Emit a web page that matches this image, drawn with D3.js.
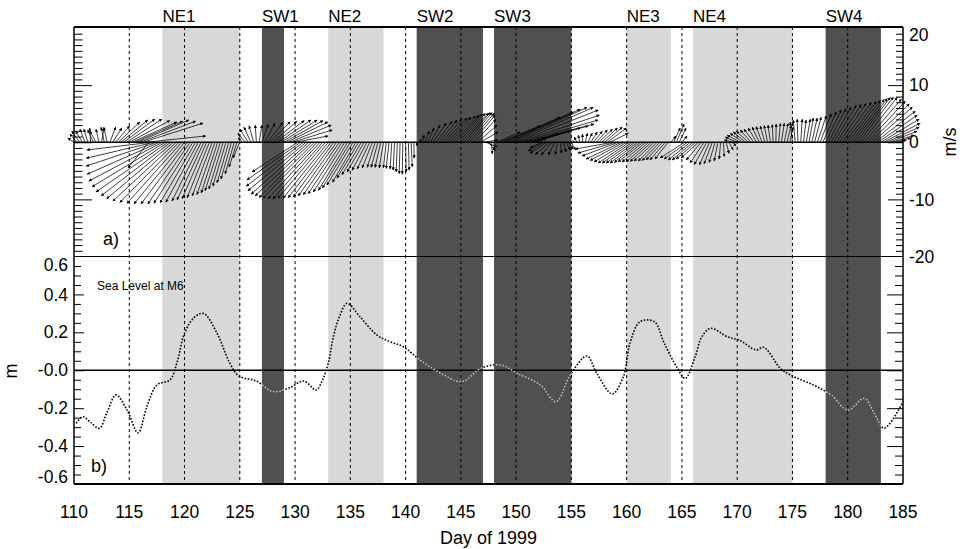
<!DOCTYPE html>
<html><head><meta charset="utf-8">
<script src="https://cdn.jsdelivr.net/npm/d3@7"></script>
<style>
body{margin:0;background:#fff}
svg{display:block}
text{font-family:"Liberation Sans",Arial,Helvetica,sans-serif;fill:#000}
</style>
</head><body>
<svg id="c" width="964" height="549"></svg>
<script>
// ---------- data ----------
const bandNames = ["NE1","SW1","NE2","SW2","SW3","NE3","NE4","SW4"];
const bandStart = [118,127,133,141,148,160,166,178];
const bandEnd   = [125,129,138,147,155,164,175,183];
const dayTicks  = [110,115,120,125,130,135,140,145,150,155,160,165,170,175,180,185];
const gridDays  = [115,120,125,130,135,140,145,150,155,160,165,170,175,180];
const windTicks = [-20,-10,0,10,20];
const windTickLabels = ["-20","-10","0","10","20"];
const slTicks = [-0.6,-0.4,-0.2,0,0.2,0.4,0.6];
const slTickLabels = ["-0.6","-0.4","-0.2","-0.0","0.2","0.4","0.6"];

// wind (6-hourly), m/s
const windDay = [
110,110.25,110.5,110.75, 111,111.25,111.5,111.75, 112,112.25,112.5,112.75, 113,113.25,113.5,113.75,
114,114.25,114.5,114.75, 115,115.25,115.5,115.75, 116,116.25,116.5,116.75, 117,117.25,117.5,117.75,
118,118.25,118.5,118.75, 119,119.25,119.5,119.75, 120,120.25,120.5,120.75, 121,121.25,121.5,121.75,
122,122.25,122.5,122.75, 123,123.25,123.5,123.75, 124,124.25,124.5,124.75, 125,125.25,125.5,125.75,
126,126.25,126.5,126.75, 127,127.25,127.5,127.75, 128,128.25,128.5,128.75, 129,129.25,129.5,129.75,
130,130.25,130.5,130.75, 131,131.25,131.5,131.75, 132,132.25,132.5,132.75, 133,133.25,133.5,133.75,
134,134.25,134.5,134.75, 135,135.25,135.5,135.75, 136,136.25,136.5,136.75, 137,137.25,137.5,137.75,
138,138.25,138.5,138.75, 139,139.25,139.5,139.75, 140,140.25,140.5,140.75, 141,141.25,141.5,141.75,
142,142.25,142.5,142.75, 143,143.25,143.5,143.75, 144,144.25,144.5,144.75, 145,145.25,145.5,145.75,
146,146.25,146.5,146.75, 147,147.25,147.5,147.75, 148,148.25,148.5,148.75, 149,149.25,149.5,149.75,
150,150.25,150.5,150.75, 151,151.25,151.5,151.75, 152,152.25,152.5,152.75, 153,153.25,153.5,153.75,
154,154.25,154.5,154.75, 155,155.25,155.5,155.75, 156,156.25,156.5,156.75, 157,157.25,157.5,157.75,
158,158.25,158.5,158.75, 159,159.25,159.5,159.75, 160,160.25,160.5,160.75, 161,161.25,161.5,161.75,
162,162.25,162.5,162.75, 163,163.25,163.5,163.75, 164,164.25,164.5,164.75, 165,165.25,165.5,165.75,
166,166.25,166.5,166.75, 167,167.25,167.5,167.75, 168,168.25,168.5,168.75, 169,169.25,169.5,169.75,
170,170.25,170.5,170.75, 171,171.25,171.5,171.75, 172,172.25,172.5,172.75, 173,173.25,173.5,173.75,
174,174.25,174.5,174.75, 175,175.25,175.5,175.75, 176,176.25,176.5,176.75, 177,177.25,177.5,177.75,
178,178.25,178.5,178.75, 179,179.25,179.5,179.75, 180,180.25,180.5,180.75, 181,181.25,181.5,181.75,
182,182.25,182.5,182.75, 183,183.25,183.5,183.75, 184,184.25,184.5,184.75, 185];
const windU = [
-1.1,-1.2,-1.35,-1.15, -0.9,-0.7,-0.15,-1.0, -1.1,-0.5,0.4,-0.6, -0.6,1.0,1.6,2.5,
3.8,4.7,5.45,6.2, 7.1,7.85,8.4,9.0, 9.7,10.5,10.5,-3.6, -11.3,-11.9,-12.4,-12.7,
-12.9,-12.8,-12.6,-12.2, -11.7,-11.1,-10.35,-9.6, -8.85,-8.1,-7.4,-6.8, -6.2,-5.7,-5.1,-4.7,
-4.3,-3.9,-3.5,-3.15, -2.9,-2.7,-2.5,-2.3, -2.05,-1.85,-1.6,-1.4, -1.2,-0.8,-1.3,-1.4,
-1.2,-0.8,-0.2,0.5, 1.1,1.8,2.7,3.5, 4.2,5.0,5.7,6.3, 6.85,7.2,7.3,7.0,
5.8,-8.0,-9.4,-10.0, -10.2,-10.1,-9.9,-9.7, -9.5,-9.1,-8.7,-8.3, -7.9,-7.5,-7.1,-6.7,
-6.3,-5.9,-5.5,-5.1, -4.9,-4.6,-4.1,-3.8, -3.4,-3.0,-2.6,-2.2, -1.8,-1.4,-1.2,-1.0,
-0.75,-0.5,-0.5,-0.3, -0.25,-0.2,-0.15,-0.1, 0.1,0.15,0.2,0.05, 0.1,0.3,0.35,0.75,
1.1,1.7,2.25,2.85, 3.2,3.6,4.0,4.2, 4.45,4.65,4.7,4.75, 4.8,4.65,4.5,4.4,
4.1,3.75,3.45,3.15, 2.65,2.0,1.2,0.2, 0.05,4.1,7.1,10.15, 11.95,12.7,13.4,14.0,
14.4,14.1,13.4,12.2, 10.7,8.8,6.6,4.0, 1.4,-1.9,-2.7,-2.85, -2.45,-1.9,-1.15,-0.4,
0.2,0.55,0.8,0.8, 0.7,-0.3,-0.45,-0.25, 0.0,0.4,0.75,1.15, 1.55,1.95,2.35,2.75,
3.1,3.35,3.2,-6.6, -6.6,-6.35,-6.15,-5.95, -5.7,-5.5,-5.25,-5.05, -4.85,-4.6,-4.4,-4.2,
-4.0,-3.75,-3.55,-3.3, -3.1,-2.9,-2.7,-2.3, 0.9,1.15,1.35,1.2, 0.9,-4.3,-4.1,-3.85,
-3.65,-3.45,-3.05,-2.65, -2.45,-2.2,-1.8,-1.45, -1.05,-0.65,-0.25,0.15, 0.5,0.75,0.8,-1.8,
-2.1,-2.25,-2.2,-2.15, -2.1,-1.9,-1.7,-1.45, -1.25,-1.05,-0.8,-0.6, -0.4,-0.15,0.05,0.3,
0.5,0.7,0.75,0.6, -0.4,-0.35,-0.15,0.25, 0.45,0.7,0.75,0.95, 1.15,1.55,1.95,2.35,
2.75,3.1,3.5,3.9, 4.3,4.7,5.1,5.5, 5.7,5.9,5.95,6.0, 6.05,6.25,6.5,6.7,
6.9,6.95,7.0,6.85, 6.7,6.4,5.75,4.9, 3.9,2.75,1.55,0.55, 0.0];
const windV = [
0.75,1.45,1.95,1.95, 2.3,2.3,2.5,2.15, 1.95,2.3,2.5,2.65, 2.65,2.65,2.5,2.85,
3.55,3.9,4.05,4.05, 3.8,3.55,3.7,3.9, 3.7,3.35,1.1,-4.5, -1.35,-2.8,-4.2,-5.6,
-6.8,-7.8,-8.7,-9.4, -9.9,-10.3,-10.55,-10.7, -10.8,-10.8,-10.8,-10.7, -10.6,-10.5,-10.3,-10.1,
-9.9,-9.7,-9.4,-9.15, -8.9,-8.5,-8.2,-7.7, -7.1,-6.45,-5.55,-4.35, -2.75,0.75,1.6,2.3,
2.65,2.9,3.0,3.0, 3.1,3.3,3.45,3.6, 3.7,3.8,3.9,3.9, 3.8,3.55,3.0,2.15,
1.1,-5.2,-6.6,-7.7, -8.5,-9.1,-9.4,-9.7, -9.8,-9.9,-9.9,-9.8, -9.8,-9.7,-9.6,-9.4,
-9.2,-9.0,-8.7,-8.4, -8.0,-7.5,-7.0,-6.3, -5.7,-5.2,-4.9,-4.7, -4.5,-4.4,-4.4,-4.4,
-4.5,-4.5,-4.6,-4.7, -4.9,-5.2,-5.5,-5.6, -5.2,-4.9,-4.3,-2.8, -0.7,0.55,1.25,1.95,
2.5,3.0,3.35,3.7, 3.9,4.05,4.25,4.4, 4.6,4.75,4.95,5.05, 5.1,5.2,5.2,5.1,
4.75,4.05,3.0,1.8, 0.4,-0.8,-1.5,-2.05, -1.35,1.8,2.85,4.4, 5.3,5.8,6.1,6.1,
5.65,4.75,3.9,3.2, 2.85,2.5,1.95,1.45, 0.75,-1.0,-1.5,-1.9, -2.15,-2.25,-2.25,-2.15,
-1.95,-1.7,-1.35,-1.2, -1.35,0.4,0.9,1.25, 1.45,1.6,1.6,1.8, 1.95,2.15,2.3,2.5,
2.65,2.5,1.6,-1.2, -1.9,-2.4,-2.95,-3.2, -3.45,-3.65,-3.65,-3.65, -3.65,-3.55,-3.45,-3.45,
-3.45,-3.35,-3.3,-3.3, -3.2,-3.1,-3.1,-2.95, 1.1,2.5,3.2,2.5, 1.1,-2.75,-2.95,-3.1,
-3.1,-2.95,-2.75,-3.1, -3.65,-3.9,-4.0,-3.8, -3.55,-3.3,-2.95,-2.5, -1.95,-1.35,-0.65,0.4,
0.9,1.25,1.55,1.8, 1.95,2.15,2.3,2.5, 2.65,2.75,2.85,2.95, 3.0,3.1,3.2,3.3,
3.35,3.3,3.0,2.65, 3.55,3.9,4.05,4.05, 3.9,4.05,4.25,4.25, 4.4,4.6,4.95,5.3,
5.65,5.9,6.15,6.45, 6.6,6.8,6.95,7.15, 7.3,7.5,7.65,7.85, 7.9,7.85,7.55,7.2,
6.7,6.15,5.45,4.75, 4.05,3.35,2.65,1.95, 1.25,0.75,0.4,0.2, 0.0];

// sea level at M6, m
const slDay = [110.2,110.8,111.5,112.3,113.0,113.8,114.8,115.8,116.6,117.5,
118.7,119.3,120.0,120.8,121.7,122.9,124.1,124.9,126.5,128.0,
129.5,130.8,131.9,132.5,133.0,133.5,134.0,134.7,135.9,137.4,
138.6,139.8,141.3,143.1,145.1,146.8,148.6,150.1,152.2,153.6,
154.9,156.4,157.3,158.7,159.7,160.3,161.2,162.5,163.4,164.6,
165.3,166.2,166.8,167.6,169.1,170.3,171.7,172.4,173.9,174.8,
176.9,178.5,180.0,181.5,182.4,183.3,185.0];
const slVal = [-0.28,-0.245,-0.275,-0.306,-0.22,-0.13,-0.21,-0.33,-0.19,-0.078,
-0.05,0.037,0.195,0.274,0.30,0.20,0.037,-0.03,-0.057,-0.113,
-0.092,-0.057,-0.104,-0.05,0.037,0.186,0.28,0.353,0.28,0.186,
0.15,0.124,0.054,-0.013,-0.06,0.01,0.028,-0.016,-0.078,-0.166,
-0.025,0.075,-0.016,-0.125,-0.034,0.142,0.256,0.256,0.142,0.01,
-0.043,0.072,0.177,0.221,0.177,0.156,0.107,0.121,0.01,-0.025,
-0.078,-0.13,-0.21,-0.148,-0.227,-0.306,-0.166];

// ---------- layout ----------
const L = 74, R = 903, T = 27, MID = 256.5, B = 484;
const svg = d3.select("#c");
const x  = d3.scaleLinear().domain([110,185]).range([L,R]);
const yW = d3.scaleLinear().domain([-20,20]).range([MID,28]);
const yS = d3.scaleLinear().domain([-0.6,0.6]).range([B,MID]);
const LIGHT = "#d8d8d8", DARK = "#505050";

const defs = svg.append("defs");
defs.append("marker").attr("id","ah").attr("viewBox","0 0 6 6")
  .attr("refX",5.5).attr("refY",3).attr("markerWidth",3.2).attr("markerHeight",3.2)
  .attr("markerUnits","userSpaceOnUse").attr("orient","auto")
  .append("path").attr("d","M0,0L6,3L0,6z").attr("fill","#000");
const cp = defs.append("clipPath").attr("id","darkclip");

// bands
const bands = bandNames.map((n,i)=>({n, s:bandStart[i], e:bandEnd[i], dark:n.startsWith("SW")}));
svg.append("g").selectAll("rect").data(bands).enter().append("rect")
  .attr("x",d=>x(d.s)).attr("width",d=>x(d.e)-x(d.s))
  .attr("y",T).attr("height",B-T)
  .attr("fill",d=>d.dark?DARK:LIGHT);
cp.selectAll("rect").data(bands.filter(d=>d.dark)).enter().append("rect")
  .attr("x",d=>x(d.s)).attr("width",d=>x(d.e)-x(d.s)).attr("y",T).attr("height",B-T);

// band labels
svg.append("g").selectAll("text").data(bands).enter().append("text")
  .attr("x",d=>x(d.s)).attr("y",21.5).attr("font-size",17).text(d=>d.n);

// dashed day lines
svg.append("g").selectAll("line").data(gridDays).enter().append("line")
  .attr("x1",d=>x(d)).attr("x2",d=>x(d)).attr("y1",T).attr("y2",B)
  .attr("stroke","#000").attr("stroke-width",1).attr("stroke-dasharray","3,3");

// zero lines
svg.append("line").attr("x1",L).attr("x2",R).attr("y1",yW(0)).attr("y2",yW(0)).attr("stroke","#000").attr("stroke-width",1.6);
svg.append("line").attr("x1",L).attr("x2",R).attr("y1",yS(0)).attr("y2",yS(0)).attr("stroke","#000").attr("stroke-width",1.6);

// wind sticks
const k = yW(0) - yW(1);
const wind = windDay.map((d,i)=>({d, u:windU[i], v:windV[i]}));
svg.append("g").selectAll("line").data(wind).enter().append("line")
  .attr("x1",d=>x(d.d)).attr("y1",yW(0))
  .attr("x2",d=>x(d.d)+d.u*k).attr("y2",d=>yW(d.v))
  .attr("stroke","#000").attr("stroke-width",0.75)
  .attr("marker-end",d=>(Math.hypot(d.u,d.v)>0.6?"url(#ah)":null));

// sea level
const sl = slDay.map((d,i)=>({d, v:slVal[i]}));
const line = d3.line().x(d=>x(d.d)).y(d=>yS(d.v)).curve(d3.curveCatmullRom.alpha(0.5));
svg.append("path").datum(sl).attr("d",line).attr("fill","none")
  .attr("stroke","#000").attr("stroke-width",1.6).attr("stroke-dasharray","1.6,1.6");
svg.append("path").datum(sl).attr("d",line).attr("fill","none").attr("clip-path","url(#darkclip)")
  .attr("stroke","#cfcfcf").attr("stroke-width",1.6).attr("stroke-dasharray","1.6,1.6");

// ticks via d3 axes (inward)
function ax(gen, scale, vals, size, xPos){
  const g = svg.append("g").attr("transform",`translate(${xPos},0)`)
    .call(gen(scale).tickValues(vals).tickSize(size).tickFormat(""));
  g.select(".domain").remove();
  g.selectAll("line").attr("stroke","#000");
}
const wMinor = d3.range(-19,20,1).filter(v=>v%10!==0);
const wMajor = [-10,0,10];
ax(d3.axisLeft, yW, wMinor, -8.5, L);
ax(d3.axisLeft, yW, wMajor, -18, L);
ax(d3.axisRight, yW, wMinor, -7, R);
ax(d3.axisRight, yW, wMajor, -15, R);
const sMinor = d3.range(-11,12,1).map(v=>v*0.05).filter(v=>Math.abs(Math.round(v*100)%20)!==0);
const sMajor = [-0.4,-0.2,0,0.2,0.4];
ax(d3.axisLeft, yS, sMinor, -7, L);
ax(d3.axisLeft, yS, sMajor, -10, L);
ax(d3.axisRight, yS, sMinor, -8, R);
ax(d3.axisRight, yS, sMajor, -16, R);

// frame
svg.append("line").attr("x1",L).attr("x2",R).attr("y1",T).attr("y2",T).attr("stroke","#000").attr("stroke-width",2);
svg.append("line").attr("x1",L).attr("x2",R).attr("y1",MID).attr("y2",MID).attr("stroke","#000").attr("stroke-width",1);
svg.append("line").attr("x1",L).attr("x2",R).attr("y1",B).attr("y2",B).attr("stroke","#000").attr("stroke-width",1.8);
svg.append("line").attr("x1",L).attr("x2",L).attr("y1",T).attr("y2",B).attr("stroke","#000").attr("stroke-width",1.5);
svg.append("line").attr("x1",R).attr("x2",R).attr("y1",T).attr("y2",B).attr("stroke","#000").attr("stroke-width",1.5);

// tick labels
svg.append("g").selectAll("text").data(dayTicks).enter().append("text")
  .attr("x",d=>x(d)).attr("y",518).attr("text-anchor","middle").attr("font-size",17.5).text(d=>d);
svg.append("g").selectAll("text").data(windTicks).enter().append("text")
  .attr("x",909).attr("y",(d)=>Math.max(yW(d),35)).attr("dy","0.35em").attr("font-size",17.5)
  .text((d,i)=>windTickLabels[i]);
svg.append("g").selectAll("text").data(slTicks).enter().append("text")
  .attr("x",68).attr("y",d=>Math.min(Math.max(yS(d),265),477)).attr("dy","0.35em")
  .attr("text-anchor","end").attr("font-size",17.5).text((d,i)=>slTickLabels[i]);

// titles
svg.append("text").attr("x",(L+R)/2).attr("y",544).attr("text-anchor","middle").attr("font-size",18).text("Day of 1999");
svg.append("text").attr("transform","translate(17,371) rotate(-90)").attr("text-anchor","middle").attr("font-size",18).text("m");
svg.append("text").attr("transform","translate(956,142) rotate(-90)").attr("text-anchor","middle").attr("font-size",18).text("m/s");
svg.append("text").attr("x",103).attr("y",245).attr("font-size",18).text("a)");
svg.append("text").attr("x",91).attr("y",472).attr("font-size",18).text("b)");
svg.append("text").attr("x",97).attr("y",290).attr("font-size",12).text("Sea Level at M6");
</script>
</body></html>
